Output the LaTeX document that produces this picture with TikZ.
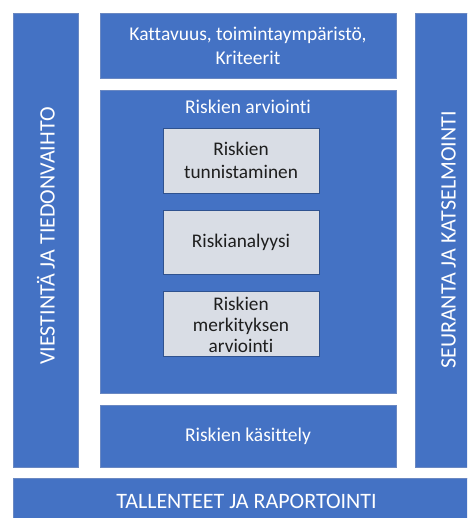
\documentclass[tikz,border=0pt]{standalone}
\usepackage{fontspec}
\setmainfont[Ligatures=CommonOff]{Carlito}
\definecolor{boxblue}{HTML}{4472C4}
\definecolor{edgeblue}{HTML}{6A88C2}
\definecolor{stepfill}{HTML}{D9DDE5}
\definecolor{stepedge}{HTML}{2F528F}
\definecolor{steptext}{HTML}{1E1E1E}
\begin{document}
\begin{tikzpicture}[x=1pt,y=-1pt,
  bluebox/.style={fill=boxblue,draw=edgeblue,line width=0.6pt},
  graybox/.style={fill=stepfill,draw=stepedge,line width=0.8pt},
  whitetxt/.style={text=white,font=\fontsize{19.5}{24}\selectfont,align=center},
  bigtxt/.style={text=white,font=\fontsize{22}{24}\selectfont},
  steptxt/.style={text=steptext,font=\fontsize{19.3}{23}\selectfont,align=center}]
\useasboundingbox (0,0) rectangle (467,518);
\clip (0,0) rectangle (467,518);
% side bars and bottom bar
\draw[bluebox] (13,13) rectangle (78,467);
\draw[bluebox] (415,13) rectangle (482,467);
\draw[bluebox] (13,478) rectangle (482,524);
\node[bigtxt,rotate=90] (comm) at (46,236) {VIESTINTÄ JA TIEDONVAIHTO};
\node[bigtxt,rotate=90] (mon) at (448.5,240) {SEURANTA JA KATSELMOINTI};
\node[bigtxt] (rec) at (246.5,501) {TALLENTEET JA RAPORTOINTI};
% central column
\draw[bluebox] (100,13) rectangle (396,78);
\node[whitetxt] (scope) at (248,45.5) {Kattavuus, toimintaympäristö,\\Kriteerit};
\draw[bluebox] (100,90) rectangle (396,393);
\node[whitetxt] (assess) at (248,107) {Riskien arviointi};
\draw[bluebox] (100,405) rectangle (396,467);
\node[whitetxt] (treat) at (248,436) {Riskien käsittely};
% assessment steps
\draw[graybox] (163,128) rectangle (319,193);
\node[steptxt] (ident) at (241,160.5) {Riskien\\tunnistaminen};
\draw[graybox] (163,210) rectangle (319,274);
\node[steptxt] (anal) at (241,242) {Riskianalyysi};
\draw[graybox] (163,291) rectangle (319,356);
\node[steptxt,font=\fontsize{19.3}{21}\selectfont] (eval) at (241,325) {Riskien\\merkityksen\\arviointi};
\end{tikzpicture}
\end{document}
